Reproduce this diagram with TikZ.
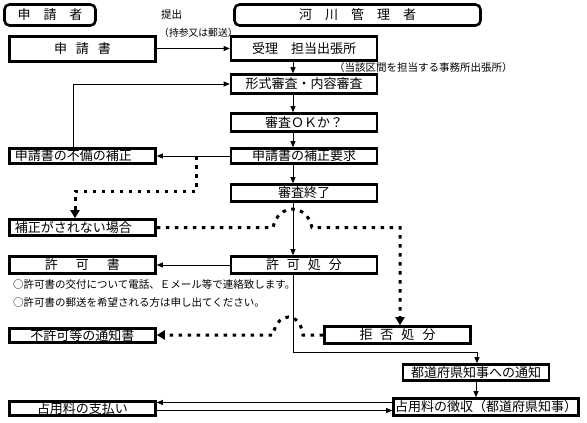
\documentclass[tikz,border=0pt]{standalone}
\usepackage{fontspec}
\setmainfont{Noto Sans CJK JP}
\usetikzlibrary{arrows.meta}

\tikzset{
	box/.style={draw,line width=2.6pt,inner sep=0pt,minimum width=146pt,font=\fontsize{13}{13}\selectfont},
	hdr/.style={box,rounded corners=5pt},
	flow/.style={line width=0.8pt,-{Triangle[length=6pt,width=5pt]}},
	dotline/.style={line width=3pt,dash pattern=on 3.5pt off 5.5pt},
	dotflow/.style={dotline,-{Triangle[length=8pt,width=9pt]}},
	note/.style={anchor=west,inner sep=0pt,font=\fontsize{10.5}{10.5}\selectfont}
}

\begin{document}
\begin{tikzpicture}[x=1pt,y=-1pt]
	\useasboundingbox (0,0) rectangle (587,423);
	\node[hdr,minimum width=91pt,minimum height=21pt] (shinsei) at (50,15) {申　請　者};
	\node[hdr,minimum width=246pt,minimum height=21pt] (kasen) at (357.5,15) {河　川　管　理　者};
	\node[box,minimum height=25pt] (appl) at (82.5,49) {申\hspace{9pt}請\hspace{9pt}書};
	\node[box,minimum height=24pt] (recv) at (304,48.5) {受理　担当出張所};
	\node[box,minimum height=19pt] (form) at (304,84) {形式審査・内容審査};
	\node[box,minimum height=18pt] (chk) at (304,122.5) {審査ＯＫか？};
	\node[box,minimum height=15pt] (fix) at (82.5,156) {\makebox[135pt][l]{申請書の不備の補正}};
	\node[box,minimum height=15pt] (req) at (304,156) {申請書の補正要求};
	\node[box,minimum height=17pt] (done) at (304,193) {審査終了};
	\node[box,minimum height=16pt] (nofix) at (82.5,227.5) {\makebox[135pt][l]{補正がされない場合}};
	\node[box,minimum height=17pt] (permdoc) at (82.5,265) {許\hspace{18pt}可\hspace{18pt}書};
	\node[box,minimum height=17pt] (perm) at (304,265) {許\hspace{8pt}可\hspace{8pt}処\hspace{8pt}分};
	\node[box,minimum height=17pt] (deny) at (397.5,335) {拒\hspace{8pt}否\hspace{8pt}処\hspace{8pt}分};
	\node[box,minimum height=14pt] (denydoc) at (82.5,335.5) {不許可等の通知書};
	\node[box,minimum height=16pt] (gov) at (476,372.5) {都道府県知事への通知};
	\node[box,minimum width=185pt,minimum height=17pt] (fee) at (486,407) {占用料の徴収（都道府県知事）};
	\node[box,minimum height=14pt] (pay) at (82.5,408.5) {占用料の支払い};
	\node[note] (teishutsu) at (161,15) {提出};
	\node[note,font=\fontsize{9.8}{9.8}\selectfont] (jisan) at (159,33) {（持参又は郵送）};
	\node[note] (area) at (334,68) {（当該区間を担当する事務所出張所）};
	\node[note] (noteA) at (13,285) {○許可書の交付について電話、Ｅメール等で連絡致します。};
	\node[note] (noteB) at (13,303) {○許可書の郵送を希望される方は申し出てください。};
	\coordinate (spine) at (293,0);
	\coordinate (backA) at (73,84);
	\coordinate (splitA) at (196,156);
	\coordinate (turnA) at (196,191);
	\coordinate (dropA) at (75,191);
	\coordinate (hopA1) at (273,227.5);
	\coordinate (hopA2) at (312,227.5);
	\coordinate (turnB) at (400,227.5);
	\coordinate (turnC) at (477,352);
	\coordinate (hopB1) at (303,335);
	\coordinate (hopB2) at (273,335);
	\draw[flow] (appl.east |- recv) -- (recv.west);
	\draw[flow] (recv.south -| spine) -- (form.north -| spine);
	\draw[flow] (form.south -| spine) -- (chk.north -| spine);
	\draw[flow] (chk.south -| spine) -- (req.north -| spine);
	\draw[flow] (req.south -| spine) -- (done.north -| spine);
	\draw[flow] (req.west) -- (fix.east);
	\draw[flow] (fix.north -| backA) |- (form.west);
	\draw[dotflow] (splitA) -- (turnA) -- (dropA) -- (dropA |- nofix.north);
	\draw[dotflow] (nofix.east) -- (hopA1) .. controls (278,203) and (307,203) .. (hopA2) -- (turnB) -- (turnB |- deny.north);
	\draw[flow] (done.south -| spine) -- (perm.north -| spine);
	\draw[flow] (perm.west) -- (permdoc.east);
	\draw[flow] (perm.south -| spine) |- (turnC) -- (turnC |- gov.north);
	\draw[dotflow] (deny.west) -- (hopB1) .. controls (300,311) and (277,311) .. (hopB2) -- (hopB2 -| denydoc.east);
	\draw[flow] (gov.south) -- (gov.south |- fee.north);
	\draw[flow] ([yshift=4.5pt]fee.west) -- ([yshift=4.5pt]fee.west -| pay.east);
	\draw[flow] ([yshift=-2pt]pay.east) -- ([yshift=-2pt]pay.east -| fee.west);
\end{tikzpicture}
\end{document}
